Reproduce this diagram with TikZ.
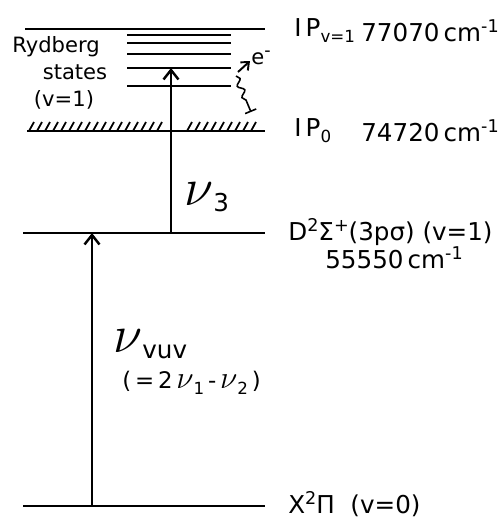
\documentclass[tikz,border=0pt]{standalone}
\usepackage{fontspec}
\setmainfont{DejaVu Sans}
\usepackage{tikz}
\usetikzlibrary{arrows.meta,positioning,decorations.pathmorphing}
\newcommand{\lowidx}[1]{\raisebox{-0.45ex}{\fontsize{9.5}{11}\selectfont #1}}
\newcommand{\highidx}[1]{\raisebox{0.7ex}{\fontsize{10}{11}\selectfont #1}}
\newcommand{\bignu}[1]{\scalebox{#1}{$\nu$}}
\tikzset{
  level/.style={line width=1.5pt},
  sublevel/.style={line width=1.1pt},
  hatchline/.style={line width=1pt},
  excite/.style={line width=1.4pt, -{Straight Barb[length=1.9mm,width=3mm,line width=1.4pt]}},
  lvllabel/.style={anchor=west, inner sep=0pt, font=\fontsize{14}{16}\selectfont},
  rydlabel/.style={inner sep=0pt, font=\fontsize{12}{14}\selectfont},
  nulabel/.style={anchor=west, inner sep=0pt, font=\fontsize{14}{16}\selectfont},
}
\begin{document}
\begin{tikzpicture}[x=0.02cm, y=-0.02cm]
  \useasboundingbox (0,0) rectangle (502,518);
  % energy levels
  \coordinate (ip1L) at (25,29);  \coordinate (ip1R) at (265,29);
  \coordinate (ip0L) at (27,131); \coordinate (ip0R) at (265,131);
  \coordinate (dL) at (23,233);   \coordinate (dR) at (265,233);
  \coordinate (xL) at (23,506);   \coordinate (xR) at (265,506);
  \draw[level] (ip1L) -- (ip1R);
  \draw[level] (ip0L) -- (ip0R);
  \draw[level] (dL) -- (dR);
  \draw[level] (xL) -- (xR);
  % Rydberg series below IP(v=1)
  \foreach \yy in {35,43,54,68,86}
    \draw[sublevel] (127,\yy) -- (231,\yy);
  \coordinate (ryd4) at (171,68);
  % ionisation continuum hatching
  \foreach \xx in {29,37,...,157,187,195,...,257}
    \draw[hatchline] (\xx,131) -- ++(5,-9);
  % transitions
  \coordinate (xup) at (92,506);  \coordinate (dtop) at (92,233);
  \coordinate (dup) at (171,233);
  \draw[excite] (xup) -- (dtop);
  \draw[excite] (dup) -- (ryd4);
  % autoionisation
  \coordinate (ea) at (238,72); \coordinate (eb) at (250,61);
  \coordinate (wa) at (236,76); \coordinate (wb) at (251,112);
  \draw[line width=1.1pt, -{Straight Barb[length=1.3mm,width=2.2mm]}] (ea) -- (eb);
  \node[rydlabel, anchor=west] (elec) at (251,58) {e\highidx{-}};
  \draw[line width=0.9pt, -{Bar[width=2.4mm]}, decorate,
        decoration={snake, amplitude=1.6pt, segment length=7pt, post length=1.5mm}] (wa) -- (wb);
  % labels
  \node[rydlabel] (ryd1) at (56,47) {Rydberg};
  \node[rydlabel] (ryd2) at (75,72) {states};
  \node[rydlabel] (ryd3) at (64,100) {(v=1)};
  \node[lvllabel] (ip1lab) at (294,31) {I\,P\lowidx{v=1}};
  \node[lvllabel] (ip1val) at (361,31) {77070\,cm\highidx{-1}};
  \node[lvllabel] (ip0lab) at (294,131) {I\,P\lowidx{0}};
  \node[lvllabel] (ip0val) at (361,131) {74720\,cm\highidx{-1}};
  \node[lvllabel] (dlab) at (288,232) {D\highidx{2}Σ\highidx{+}(3pσ) (v=1)};
  \node[lvllabel] (dval) at (325,258) {55550\,cm\highidx{-1}};
  \node[lvllabel] (xlab) at (288,504) {X\highidx{2}Π\ \ (v=0)};
  \node[nulabel] (nu3) at (184,197) {\bignu{2.1}\lowidx{\fontsize{14}{16}\selectfont 3}};
  \node[nulabel] (nuvuv) at (113,344) {\bignu{2.1}\lowidx{\fontsize{14}{16}\selectfont vuv}};
  \node[rydlabel, anchor=west, font=\fontsize{13}{15}\selectfont] (nueq) at (122,383)
    {(\,=\,2\,\bignu{1.5}\lowidx{1}\,-\,\bignu{1.5}\lowidx{2}\,)};
\end{tikzpicture}
\end{document}
